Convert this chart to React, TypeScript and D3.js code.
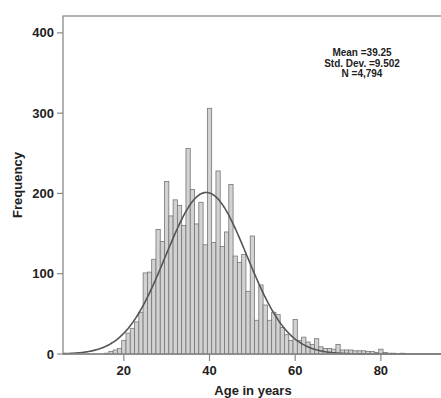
import { useEffect, useRef } from "react";
import * as d3 from "d3";

// age (1-year bins) and frequency
const ages = [16, 17, 18, 19, 20, 21, 22, 23, 24, 25, 26, 27, 28, 29, 30, 31, 32, 33, 34, 35, 36, 37, 38, 39, 40, 41, 42, 43, 44, 45, 46, 47, 48, 49, 50, 51, 52, 53, 54, 55, 56, 57, 58, 59, 60, 61, 62, 63, 64, 65, 66, 67, 68, 69, 70, 71, 72, 73, 74, 75, 76, 77, 78, 79, 80, 81, 82, 83, 85];
const freqs = [1, 3, 5, 7, 17, 26, 32, 40, 52, 101, 102, 118, 155, 140, 215, 172, 192, 185, 160, 256, 205, 162, 189, 136, 306, 139, 228, 134, 152, 211, 122, 114, 124, 78, 147, 42, 86, 61, 42, 52, 49, 33, 24, 17, 43, 17, 21, 15, 12, 19, 9, 7, 7, 6, 12, 5, 5, 5, 4, 4, 4, 3, 3, 2, 6, 2, 1, 1, 1];

const yTicks = [0, 100, 200, 300, 400];
const xTicks = [20, 40, 60, 80];
const statLines = ["Mean =39.25", "Std. Dev. =9.502", "N =4,794"];
const mean = 39.25;
const sd = 9.502;
const n = 4794;

export default function App() {
    const ref = useRef<SVGSVGElement | null>(null);
    const width = 441;
    const height = 398;

    useEffect(() => {
        const margin = { top: 16, right: -2, bottom: 44, left: 63 };
        const svg = d3.select(ref.current);
        svg.selectAll("*").remove();

        const x = d3.scaleLinear().domain([5.8, 94.5]).range([margin.left, width - margin.right]);
        const y = d3.scaleLinear().domain([0, 421]).range([height - margin.bottom, margin.top]);
        const font = "'Liberation Sans', Arial, sans-serif";
        const axisColor = "#8a8a8a";

        // plot frame
        svg.append("rect")
            .attr("x", margin.left)
            .attr("y", margin.top)
            .attr("width", width - margin.right - margin.left)
            .attr("height", height - margin.bottom - margin.top)
            .attr("fill", "#fff")
            .attr("stroke", axisColor)
            .attr("stroke-width", 1.3);

        // bars
        svg.append("g")
            .selectAll("rect")
            .data(ages.map((a, i) => ({ a, f: freqs[i] })))
            .join("rect")
            .attr("x", (d) => x(d.a - 0.5))
            .attr("width", x(1) - x(0))
            .attr("y", (d) => y(d.f))
            .attr("height", (d) => y(0) - y(d.f))
            .attr("fill", "#d2d2d2")
            .attr("stroke", "#767676")
            .attr("stroke-width", 0.8);

        // normal curve
        const pts = d3.range(5.8, 94.6, 0.25).map((a) => [a, (n / (sd * Math.sqrt(2 * Math.PI))) * Math.exp(-((a - mean) ** 2) / (2 * sd * sd))]);
        const line = d3.line<number[]>().x((d) => x(d[0])).y((d) => y(d[1])).curve(d3.curveBasis);
        svg.append("path")
            .attr("d", line(pts))
            .attr("fill", "none")
            .attr("stroke", "#555")
            .attr("stroke-width", 1.6);

        // x axis line redrawn on top
        svg.append("line")
            .attr("x1", margin.left).attr("x2", width)
            .attr("y1", y(0)).attr("y2", y(0))
            .attr("stroke", axisColor).attr("stroke-width", 1.3);

        // y ticks
        const yg = svg.append("g");
        yg.selectAll("line")
            .data(yTicks)
            .join("line")
            .attr("x1", margin.left - 6).attr("x2", margin.left)
            .attr("y1", (d) => y(d)).attr("y2", (d) => y(d))
            .attr("stroke", axisColor).attr("stroke-width", 1.2);
        yg.selectAll("text")
            .data(yTicks)
            .join("text")
            .attr("x", margin.left - 9)
            .attr("y", (d) => y(d) + 4.5)
            .attr("text-anchor", "end")
            .attr("font-family", font)
            .attr("font-weight", "bold")
            .attr("font-size", 13)
            .attr("fill", "#222")
            .text((d) => d);

        // x ticks
        const xg = svg.append("g");
        xg.selectAll("line")
            .data(xTicks)
            .join("line")
            .attr("x1", (d) => x(d)).attr("x2", (d) => x(d))
            .attr("y1", y(0)).attr("y2", y(0) + 7)
            .attr("stroke", axisColor).attr("stroke-width", 1.2);
        xg.selectAll("text")
            .data(xTicks)
            .join("text")
            .attr("x", (d) => x(d))
            .attr("y", y(0) + 21)
            .attr("text-anchor", "middle")
            .attr("font-family", font)
            .attr("font-weight", "bold")
            .attr("font-size", 13)
            .attr("fill", "#222")
            .text((d) => d);

        // axis titles
        svg.append("text")
            .attr("x", (margin.left + width - margin.right) / 2)
            .attr("y", 395)
            .attr("text-anchor", "middle")
            .attr("font-family", font)
            .attr("font-weight", "bold")
            .attr("font-size", 13)
            .attr("fill", "#222")
            .text("Age in years");

        svg.append("text")
            .attr("transform", `translate(22, ${(margin.top + height - margin.bottom) / 2}) rotate(-90)`)
            .attr("text-anchor", "middle")
            .attr("font-family", font)
            .attr("font-weight", "bold")
            .attr("font-size", 13)
            .attr("fill", "#222")
            .text("Frequency");

        // stats box
        svg.append("g")
            .selectAll("text")
            .data(statLines)
            .join("text")
            .attr("x", 362)
            .attr("y", (_, i) => 56 + i * 10.5)
            .attr("text-anchor", "middle")
            .attr("font-family", font)
            .attr("font-weight", "bold")
            .attr("font-size", 10)
            .attr("fill", "#222")
            .text((d) => d);
    }, []);

    return (
        <svg ref={ref} width={width} height={height} style={{ position: "absolute", left: 0, top: 0, background: "#fff" }}></svg>
    );
}
